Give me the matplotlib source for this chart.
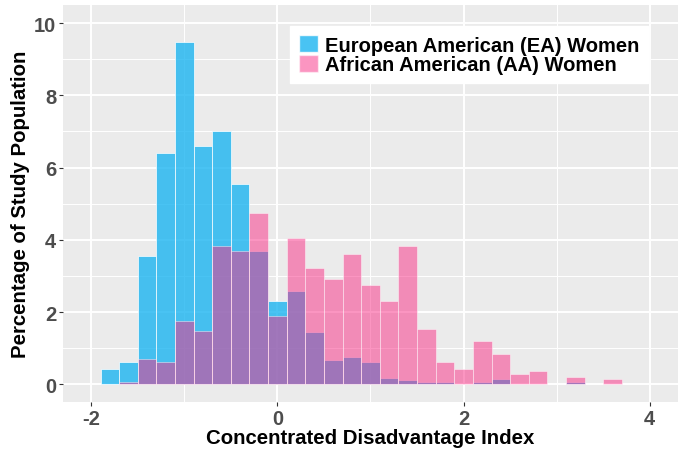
import numpy as np
import matplotlib
matplotlib.use('Agg')
import matplotlib.pyplot as plt
from matplotlib.patches import Patch
from matplotlib.ticker import MultipleLocator

plt.rcParams['font.family'] = ['Liberation Sans', 'DejaVu Sans']
plt.rcParams['font.weight'] = 'bold'
plt.rcParams['axes.unicode_minus'] = False

# bin centres of the histogram (width 0.2)
bins = [-1.8, -1.6, -1.4, -1.2, -1.0, -0.8, -0.6, -0.4, -0.2, 0.0,
        0.2, 0.4, 0.6, 0.8, 1.0, 1.2, 1.4, 1.6, 1.8, 2.0,
        2.2, 2.4, 2.6, 2.8, 3.0, 3.2, 3.4, 3.6]

# percentage of study population per bin
ea_pct = [0.43, 0.61, 3.54, 6.39, 9.47, 6.61, 7.01, 5.54, 3.69, 2.30,
          2.59, 1.46, 0.68, 0.76, 0.61, 0.16, 0.13, 0.07, 0.07, 0.0,
          0.07, 0.14, 0.0, 0.0, 0.0, 0.07, 0.0, 0.0]
aa_pct = [0.0, 0.07, 0.69, 0.62, 1.75, 1.47, 3.83, 3.69, 4.75, 1.90,
          4.05, 3.21, 2.91, 3.61, 2.76, 2.30, 3.83, 1.52, 0.61, 0.43,
          1.20, 0.83, 0.29, 0.37, 0.0, 0.21, 0.0, 0.14]

labels = ['European American (EA) Women', 'African American (AA) Women']

blue = '#1CB5F1'
pink = '#F92D85'
bg = '#EBEBEB'
grey = '#4D4D4D'

fig = plt.figure(figsize=(6.83, 4.52), dpi=100)
ax = fig.add_axes([0.0927, 0.1077, 0.8995, 0.879])
ax.set_facecolor(bg)

x = np.array(bins)
ea = np.array(ea_pct)
aa = np.array(aa_pct)
m1 = ea > 0
m2 = aa > 0
ax.bar(x[m1], ea[m1], width=0.2, color=blue, alpha=0.8, edgecolor='white', linewidth=0.6, zorder=3)
ax.bar(x[m2], aa[m2], width=0.2, color=pink, alpha=0.5, edgecolor='white', linewidth=0.6, zorder=4)

ax.set_xlim(-2.3, 4.3)
ax.set_ylim(-0.5, 10.5)
ax.xaxis.set_major_locator(MultipleLocator(2))
ax.xaxis.set_minor_locator(MultipleLocator(1))
ax.yaxis.set_major_locator(MultipleLocator(2))
ax.yaxis.set_minor_locator(MultipleLocator(1))
ax.grid(which='major', color='white', linewidth=1.4, zorder=0)
ax.grid(which='minor', color='white', linewidth=0.7, zorder=0)
ax.set_axisbelow(True)
for s in ax.spines.values():
    s.set_visible(False)

ax.tick_params(which='major', length=3, width=0.8, color='#333333',
               labelsize=14.5, labelcolor=grey, pad=2)
ax.tick_params(which='minor', length=0)
for t in ax.get_xticklabels() + ax.get_yticklabels():
    t.set_fontweight('bold')

ax.set_xlabel('Concentrated Disadvantage Index', fontsize=14.7, fontweight='bold', labelpad=0)
ax.set_ylabel('Percentage of Study Population', fontsize=14.7, fontweight='bold', labelpad=3)

handles = [Patch(facecolor=blue, alpha=0.8, edgecolor='white'),
           Patch(facecolor=pink, alpha=0.5, edgecolor='white')]
leg = ax.legend(handles, labels, loc='upper left', bbox_to_anchor=(0.369, 0.947),
                fontsize=14.5, frameon=True, fancybox=False, framealpha=1,
                edgecolor='white', facecolor='white', handlelength=0.93,
                handleheight=0.93, handletextpad=0.35, labelspacing=0.0,
                borderpad=0.45, borderaxespad=0)
for t in leg.get_texts():
    t.set_fontweight('bold')
leg.set_zorder(10)

fig.savefig('out.png', dpi=100)
